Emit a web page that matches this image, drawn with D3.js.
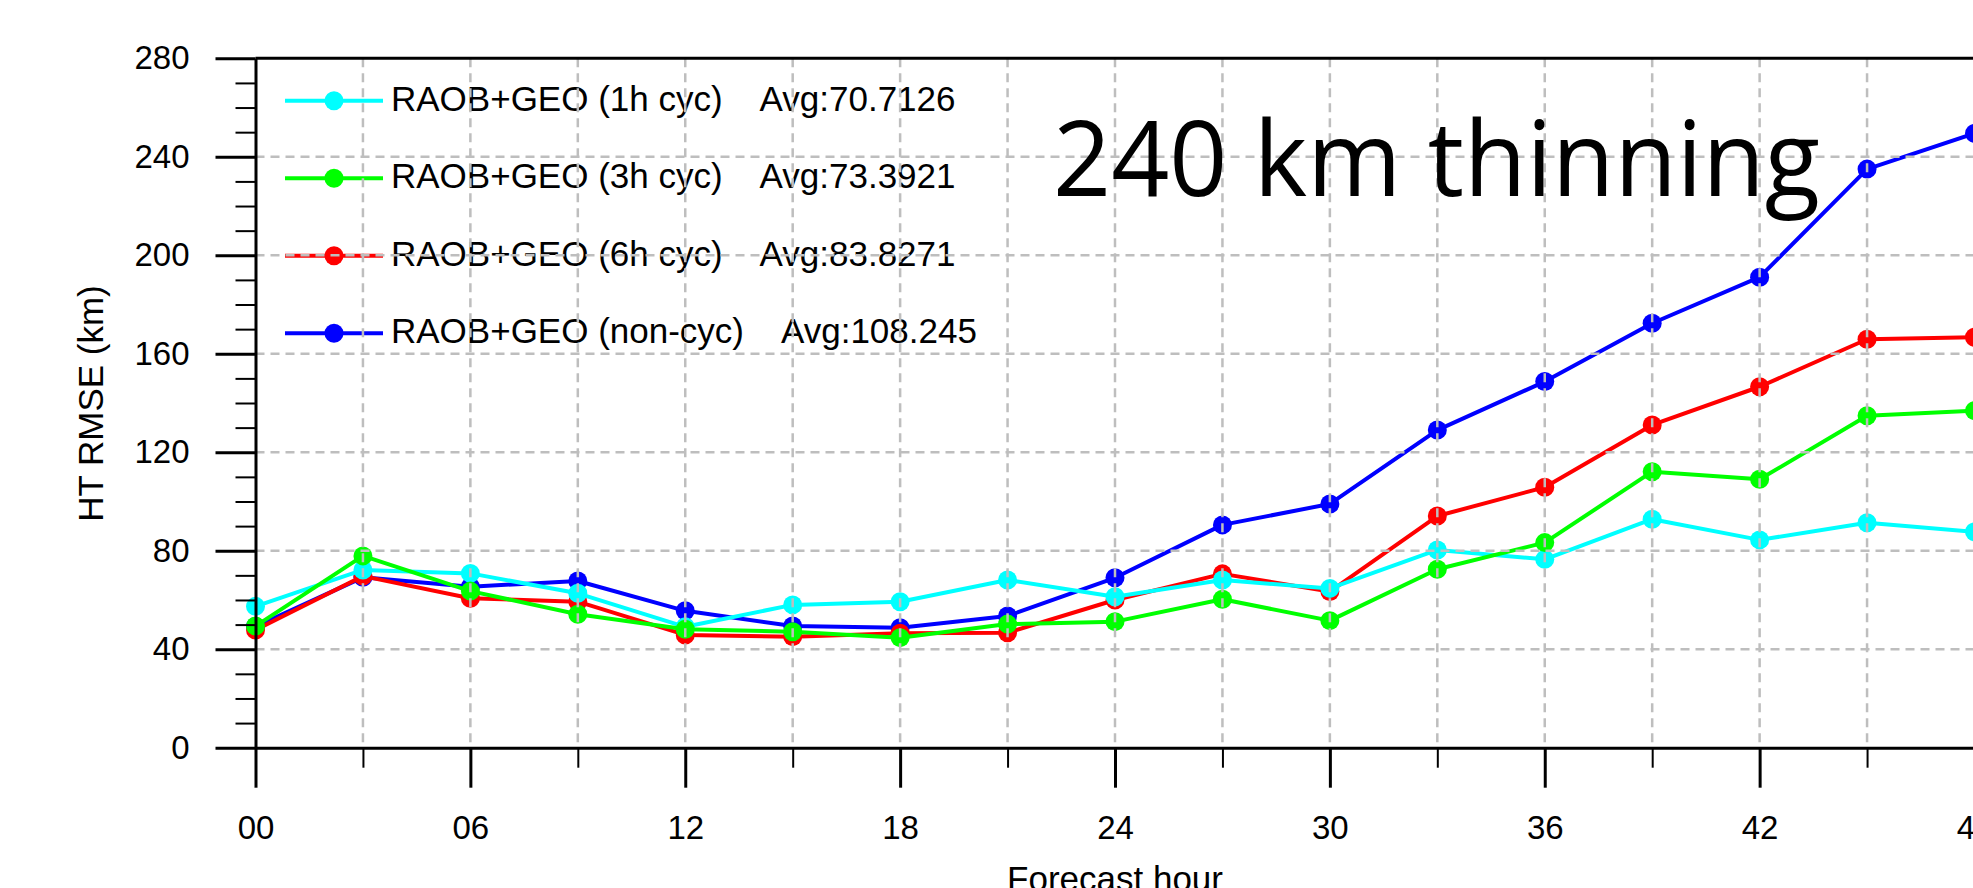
<!DOCTYPE html>
<html lang="en">
<head>
  <meta charset="UTF-8">
  <script src="https://d3js.org/d3.v7.min.js"></script>
  <style>
    body { margin: 0; background: #fff; }
    text { font-family: "Liberation Sans", Arial, sans-serif; }
  </style>
  <title>HT RMSE</title>
</head>
<body>
  <svg id="chart" width="1973" height="888"></svg>
  <script>
    // forecast hours
    var hours = [0, 3, 6, 9, 12, 15, 18, 21, 24, 27, 30, 33, 36, 39, 42, 45, 48];
    var xTickLabels = ['00', '06', '12', '18', '24', '30', '36', '42', '48'];
    var yTicks = [0, 40, 80, 120, 160, 200, 240, 280];

    var cyc1h = [57.4, 72.2, 70.8, 62.7, 49.1, 58.0, 59.3, 68.1, 61.3, 68.1, 64.7, 80.3, 76.5, 92.8, 84.4, 91.4, 87.7];
    var cyc3h = [49.4, 77.9, 63.6, 54.2, 48.1, 47.1, 44.7, 50.2, 51.2, 60.3, 51.6, 72.5, 83.3, 112.1, 109.0, 134.8, 136.9];
    var cyc6h = [47.8, 69.7, 60.7, 59.3, 45.8, 45.1, 46.5, 46.7, 60.0, 70.6, 63.4, 94.1, 105.8, 131.1, 146.6, 165.9, 166.7];
    var noncyc = [49.2, 69.2, 65.4, 67.7, 55.6, 49.4, 48.7, 53.5, 69.0, 90.5, 99.0, 129.0, 148.7, 172.4, 191.1, 235.0, 249.5];

    var names = ['RAOB+GEO (1h cyc)', 'RAOB+GEO (3h cyc)', 'RAOB+GEO (6h cyc)', 'RAOB+GEO (non-cyc)'];
    var avgs = ['Avg:70.7126', 'Avg:73.3921', 'Avg:83.8271', 'Avg:108.245'];
    var colors = ['#00ffff', '#00ff00', '#ff0000', '#0000ff'];

    var series = [cyc1h, cyc3h, cyc6h, noncyc].map(function (v, i) {
      return { name: names[i], avg: avgs[i], color: colors[i], values: v };
    });

    var svg = d3.select('#chart');
    var x = d3.scaleLinear().domain([0, 48]).range([255.5, 1974.5]);
    var y = d3.scaleLinear().domain([0, 280]).range([747.7, 58.3]);
    var gridCol = '#bebebe';

    // data lines, drawn blue, red, cyan, green
    var line = d3.line().x(function (d, i) { return x(hours[i]); }).y(function (d) { return y(d); });
    [3, 2, 0, 1].forEach(function (k) {
      var s = series[k];
      var g = svg.append('g');
      g.append('path').attr('d', line(s.values))
        .attr('fill', 'none').attr('stroke', s.color).attr('stroke-width', 4)
        .attr('stroke-linejoin', 'round');
      g.selectAll('circle').data(s.values).enter().append('circle')
        .attr('cx', function (d, i) { return x(hours[i]); })
        .attr('cy', function (d) { return y(d); })
        .attr('r', 9.5).attr('fill', s.color);
    });

    // legend
    var leg = svg.append('g');
    series.forEach(function (s, i) {
      var cy = 100.7 + i * 77.5;
      leg.append('line').attr('x1', 285).attr('x2', 383).attr('y1', cy).attr('y2', cy)
        .attr('stroke', s.color).attr('stroke-width', 4);
      leg.append('circle').attr('cx', 334).attr('cy', cy).attr('r', 9.5).attr('fill', s.color);
      leg.append('text').attr('x', 391).attr('y', cy + 10)
        .attr('font-size', 35).attr('xml:space', 'preserve').style('white-space', 'pre')
        .text(s.name + '    ' + s.avg);
    });

    // dashed grid on top of the lines
    var grid = svg.append('g').attr('stroke', gridCol).attr('stroke-width', 2.5)
      .attr('stroke-dasharray', '9,6');
    grid.selectAll('.vg').data(d3.range(3, 49, 3)).enter().append('line')
      .attr('x1', function (d) { return x(d); }).attr('x2', function (d) { return x(d); })
      .attr('y1', y(280)).attr('y2', y(0));
    grid.selectAll('.hg').data(yTicks.slice(1, -1)).enter().append('line')
      .attr('x1', x(0)).attr('x2', x(48))
      .attr('y1', function (d) { return y(d); }).attr('y2', function (d) { return y(d); });

    // axes
    var yAxis = d3.axisLeft(y).tickValues(yTicks).tickSize(40).tickPadding(26).tickSizeOuter(0);
    var gy = svg.append('g').attr('transform', 'translate(' + x(0) + ',0)').call(yAxis);
    gy.selectAll('.tick line').attr('stroke-width', 3);
    gy.selectAll('text').attr('font-size', 33).attr('font-family', '"Liberation Sans", Arial, sans-serif').attr('fill', '#000');
    gy.select('.domain').attr('stroke-width', 3);
    var yMinor = d3.axisLeft(y).tickValues(d3.range(10, 280, 10).filter(function (d) { return d % 40 !== 0; }))
      .tickSize(20).tickFormat('').tickSizeOuter(0);
    var gym = svg.append('g').attr('transform', 'translate(' + x(0) + ',0)').call(yMinor);
    gym.select('.domain').remove();
    gym.selectAll('.tick line').attr('stroke-width', 2);

    var xAxis = d3.axisBottom(x).tickValues(d3.range(0, 49, 6)).tickSize(40).tickPadding(28)
      .tickFormat(function (d, i) { return xTickLabels[i]; }).tickSizeOuter(0);
    var gx = svg.append('g').attr('transform', 'translate(0,' + y(0) + ')').call(xAxis);
    gx.selectAll('.tick line').attr('stroke-width', 3);
    gx.selectAll('text').attr('font-size', 33).attr('font-family', '"Liberation Sans", Arial, sans-serif').attr('fill', '#000');
    gx.select('.domain').attr('stroke-width', 3);
    var xMinor = d3.axisBottom(x).tickValues(d3.range(3, 49, 6)).tickSize(20).tickFormat('').tickSizeOuter(0);
    var gxm = svg.append('g').attr('transform', 'translate(0,' + y(0) + ')').call(xMinor);
    gxm.select('.domain').remove();
    gxm.selectAll('.tick line').attr('stroke-width', 2);

    // top and right frame
    svg.append('line').attr('x1', x(0)).attr('x2', x(48)).attr('y1', y(280)).attr('y2', y(280))
      .attr('stroke', '#000').attr('stroke-width', 3);
    svg.append('line').attr('x1', x(48)).attr('x2', x(48)).attr('y1', y(280)).attr('y2', y(0))
      .attr('stroke', '#000').attr('stroke-width', 3);

    // titles
    svg.append('text').attr('x', x(24)).attr('y', 891).attr('text-anchor', 'middle')
      .attr('font-size', 35).text('Forecast hour');
    svg.append('text').attr('transform', 'translate(103,403.5) rotate(-90)').attr('text-anchor', 'middle')
      .attr('font-size', 35).text('HT RMSE (km)');
    svg.append('text').attr('x', 1053).attr('y', 196)
      .style('font-family', '"Open Sans", "Noto Sans", sans-serif').attr('font-size', 104)
      .attr('textLength', 767).attr('lengthAdjust', 'spacingAndGlyphs')
      .text('240 km thinning');
  </script>
</body>
</html>
